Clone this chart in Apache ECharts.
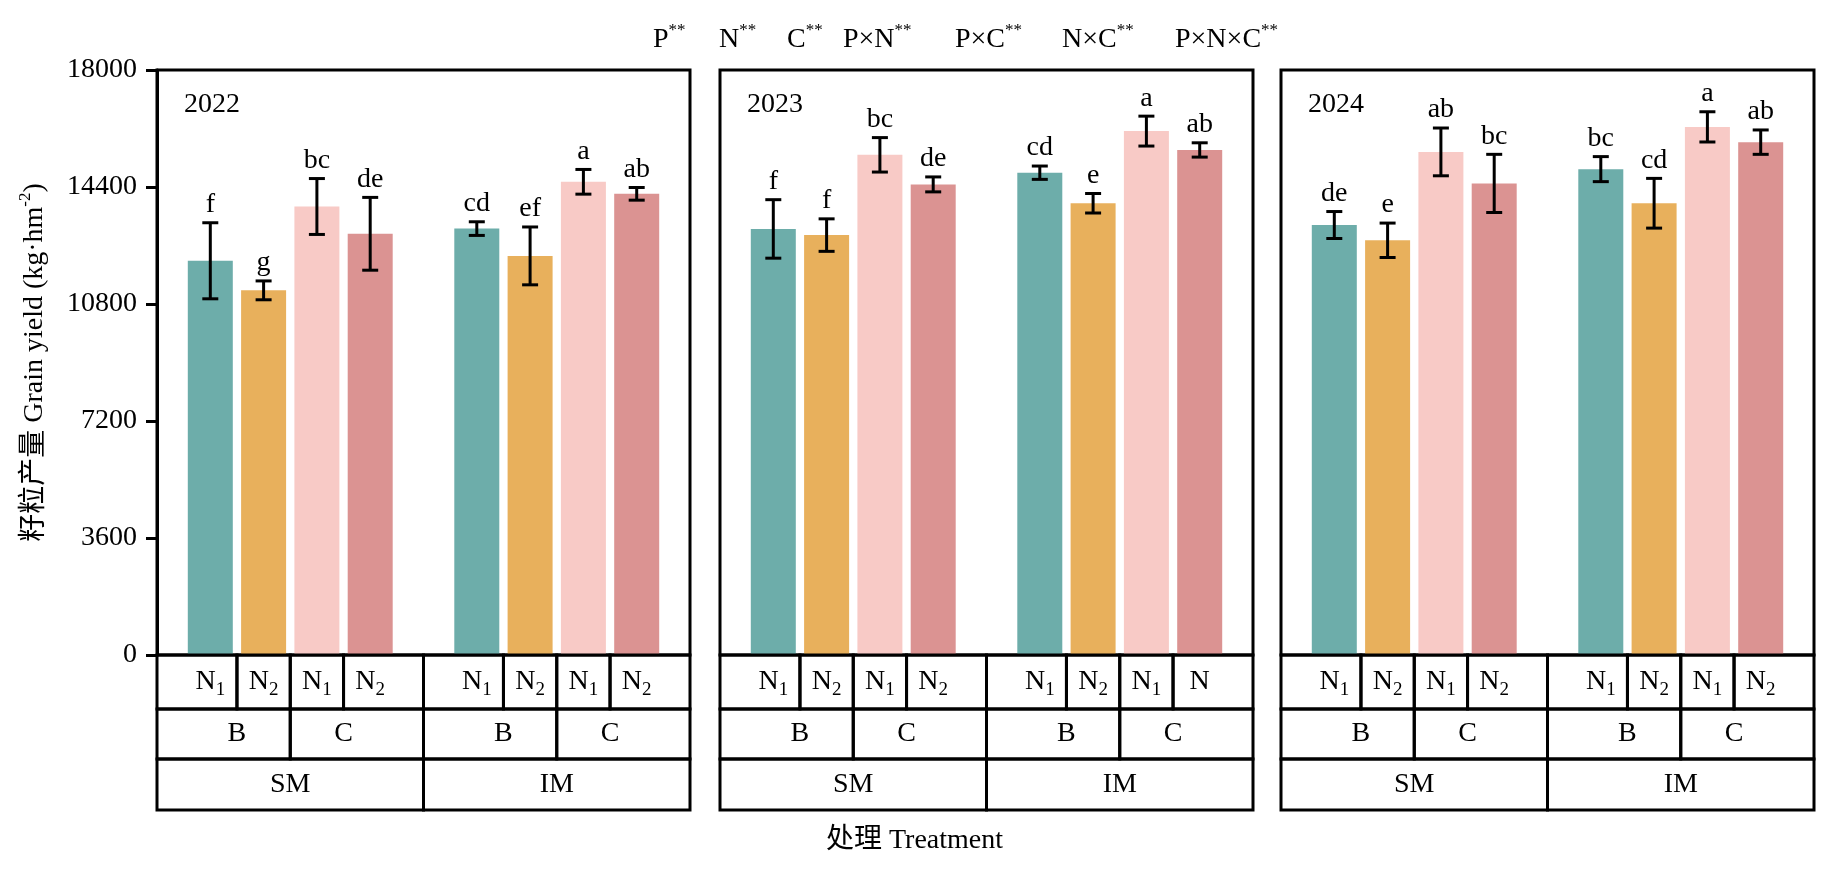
<!DOCTYPE html>
<html><head><meta charset="utf-8">
<script src="https://cdn.jsdelivr.net/npm/echarts@6/dist/echarts.min.js"></script>
<style>html,body{margin:0;padding:0;background:#fff}#c{width:1829px;height:877px}</style>
</head><body><div id="c"></div>
<script>
// ---------------- data ----------------
const years = ['2022', '2023', '2024'];
const treatments = ['SM-B-N1', 'SM-B-N2', 'SM-C-N1', 'SM-C-N2', 'IM-B-N1', 'IM-B-N2', 'IM-C-N1', 'IM-C-N2'];
const yield2022 = [12130, 11220, 13800, 12960, 13120, 12280, 14560, 14190];
const sd2022    = [1170, 290, 860, 1120, 210, 890, 380, 195];
const letters2022 = ['f', 'g', 'bc', 'de', 'cd', 'ef', 'a', 'ab'];
const yield2023 = [13110, 12920, 15390, 14480, 14840, 13900, 16120, 15540];
const sd2023    = [900, 500, 530, 230, 205, 300, 460, 220];
const letters2023 = ['f', 'f', 'bc', 'de', 'cd', 'e', 'a', 'ab'];
const yield2024 = [13230, 12760, 15480, 14510, 14950, 13900, 16250, 15780];
const sd2024    = [415, 530, 735, 895, 385, 765, 465, 375];
const letters2024 = ['de', 'e', 'ab', 'bc', 'bc', 'cd', 'a', 'ab'];
const nLabels2022 = ['N1', 'N2', 'N1', 'N2', 'N1', 'N2', 'N1', 'N2'];
const nLabels2023 = ['N1', 'N2', 'N1', 'N2', 'N1', 'N2', 'N1', 'N'];
const nLabels2024 = ['N1', 'N2', 'N1', 'N2', 'N1', 'N2', 'N1', 'N2'];
const cropLabels = ['B', 'C', 'B', 'C'];
const patternLabels = ['SM', 'IM'];
const effects = ['P', 'N', 'C', 'P×N', 'P×C', 'N×C', 'P×N×C'];
const effectSig = ['**', '**', '**', '**', '**', '**', '**'];
const yTicks = [0, 3600, 7200, 10800, 14400, 18000];

// ---------------- layout / style ----------------
const FONT = '"Liberation Serif", "Times New Roman", "Noto Sans CJK SC", serif';
const FS = 28;
const panelLeft = [157, 720, 1281];
const panelW = 533, panelTop = 70, panelH = 585;
const rowOffsets = [0, 54, 104, 155];
const barColors = ['#6dadaa', '#e8b05c', '#f8cac6', '#db9392'];
const headerX = [653, 719, 787, 843, 955, 1062, 1175];

const means = [yield2022, yield2023, yield2024];
const sds = [sd2022, sd2023, sd2024];
const letters = [letters2022, letters2023, letters2024];
const nLabels = [nLabels2022, nLabels2023, nLabels2024];

const catIndex = i => (i < 4 ? i + 1 : i + 2);
const axisCats = [''].concat(treatments.slice(0, 4), [' '], treatments.slice(4), ['  ']);

const RICH = {
  n: { fontSize: FS, fontFamily: FONT, lineHeight: 36, fill: '#000', color: '#000' },
  s: { fontSize: 19, fontFamily: FONT, lineHeight: 22, verticalAlign: 'bottom', fill: '#000', color: '#000' },
  sup: { fontSize: 17, fontFamily: FONT, lineHeight: 20, verticalAlign: 'top', fill: '#000', color: '#000' },
  sp: { fontSize: 17, fontFamily: FONT, lineHeight: 17, verticalAlign: 'top', fill: '#000', color: '#000' },
  t: { fontSize: FS, fontFamily: FONT, lineHeight: 36, fill: '#000', color: '#000' }
};
const richN = s => (s.length > 1 ? '{n|' + s[0] + '}{s|' + s.slice(1) + '}' : '{n|' + s + '}');

// table cells (fractional category indices)
function buildCells(p) {
  const cells = [];
  const groupStart = [0, 5], groupEnd = [5, 10];
  for (let i = 0; i < 8; i++) {
    const g = Math.floor(i / 4), k = i % 4;
    const a = k === 0 ? groupStart[g] : (catIndex(i - 1) + catIndex(i)) / 2;
    const b = k === 3 ? groupEnd[g] : (catIndex(i) + catIndex(i + 1)) / 2;
    cells.push({ row: 0, a: a, b: b, c: catIndex(i), text: richN(nLabels[p][i]) });
  }
  for (let j = 0; j < 4; j++) {
    const g = Math.floor(j / 2), c = j % 2;
    const i0 = g * 4 + c * 2;
    const mid = (catIndex(g * 4 + 1) + catIndex(g * 4 + 2)) / 2;
    cells.push({ row: 1, a: c === 0 ? groupStart[g] : mid, b: c === 0 ? mid : groupEnd[g],
      c: (catIndex(i0) + catIndex(i0 + 1)) / 2, text: '{n|' + cropLabels[j] + '}' });
  }
  for (let g = 0; g < 2; g++) {
    cells.push({ row: 2, a: groupStart[g], b: groupEnd[g],
      c: (catIndex(g * 4) + catIndex(g * 4 + 3)) / 2, text: '{n|' + patternLabels[g] + '}' });
  }
  return cells;
}

const grids = [], xAxes = [], yAxes = [], series = [];
years.forEach((yr, p) => {
  grids.push({ left: panelLeft[p], top: panelTop, width: panelW, height: panelH,
    show: true, borderColor: '#000', borderWidth: 3, backgroundColor: 'transparent' });
  xAxes.push({ gridIndex: p, type: 'category', data: axisCats, boundaryGap: false, show: false });
  const y = { gridIndex: p, type: 'value', min: yTicks[0], max: yTicks[yTicks.length - 1],
    interval: yTicks[1] - yTicks[0], splitLine: { show: false },
    axisLine: { show: p === 0, lineStyle: { color: '#000', width: 3 } },
    axisTick: { show: p === 0, length: 11, lineStyle: { color: '#000', width: 3 } },
    axisLabel: { show: p === 0, margin: 20, fontSize: FS, fontFamily: FONT, color: '#000',
      formatter: v => String(v) } };
  if (p === 0) {
    y.name = '{t|籽粒产量 Grain yield (kg·hm}{sp|-2}{t|)}';
    y.nameLocation = 'middle';
    y.nameRotate = 90;
    y.nameGap = 104;
    y.nameTextStyle = { fontSize: FS, fontFamily: FONT, color: '#000', rich: RICH };
  }
  yAxes.push(y);

  const barData = axisCats.map(() => null);
  means[p].forEach((v, i) => {
    barData[catIndex(i)] = { value: v, itemStyle: { color: barColors[i % 4] } };
  });
  series.push({ type: 'bar', xAxisIndex: p, yAxisIndex: p, data: barData, barWidth: 45, silent: true, z: 2 });

  const errData = means[p].map((v, i) => [catIndex(i), v, sds[p][i]]);
  series.push({ type: 'custom', xAxisIndex: p, yAxisIndex: p, clip: false, silent: true, z: 5,
    data: errData,
    renderItem: (params, api) => {
      const x = api.value(0), m = api.value(1), s = api.value(2);
      const top = api.coord([x, m + s]), bot = api.coord([x, m - s]);
      const cx = top[0], hw = 8;
      const st = { stroke: '#000', lineWidth: 3 };
      return { type: 'group', children: [
        { type: 'line', shape: { x1: cx, y1: top[1], x2: cx, y2: bot[1] }, style: st },
        { type: 'line', shape: { x1: cx - hw, y1: top[1], x2: cx + hw, y2: top[1] }, style: st },
        { type: 'line', shape: { x1: cx - hw, y1: bot[1], x2: cx + hw, y2: bot[1] }, style: st },
        { type: 'text', style: { text: letters[p][params.dataIndex], x: cx, y: top[1] - 4,
          align: 'center', verticalAlign: 'bottom', fontSize: FS, fontFamily: FONT, fill: '#000' } }
      ] };
    } });

  const cells = buildCells(p);
  series.push({ type: 'custom', xAxisIndex: p, yAxisIndex: p, clip: false, silent: true, z: 6,
    data: cells.map(() => [0, 0]),
    renderItem: (params, api) => {
      const cell = cells[params.dataIndex];
      const c0 = api.coord([0, 0]), c1 = api.coord([1, 0]);
      const step = c1[0] - c0[0];
      const px = f => c0[0] + f * step;
      const base = c0[1];
      const y0 = base + rowOffsets[cell.row], y1 = base + rowOffsets[cell.row + 1];
      return { type: 'group', children: [
        { type: 'rect', shape: { x: px(cell.a), y: y0, width: px(cell.b) - px(cell.a), height: y1 - y0 },
          style: { fill: 'none', stroke: '#000', lineWidth: 3 } },
        { type: 'text', style: { text: cell.text, rich: RICH, x: px(cell.c), y: (y0 + y1) / 2,
          align: 'center', verticalAlign: 'middle', fontSize: FS, fontFamily: FONT, fill: '#000' } }
      ] };
    } });
});

const graphics = [];
effects.forEach((e, i) => {
  graphics.push({ type: 'text', left: headerX[i], top: 22, silent: true,
    style: { text: '{n|' + e + '}{sup|' + effectSig[i] + '}', rich: RICH, fontSize: FS, fontFamily: FONT, fill: '#000' } });
});
years.forEach((yr, p) => {
  graphics.push({ type: 'text', left: panelLeft[p] + 27, top: 91, silent: true,
    style: { text: yr, fontSize: FS, fontFamily: FONT, fill: '#000' } });
});
graphics.push({ type: 'text', left: 'center', top: 827, silent: true,
  style: { text: '处理 Treatment', fontSize: FS, fontFamily: FONT, fill: '#000' } });

const chart = echarts.init(document.getElementById('c'));
chart.setOption({
  animation: false,
  backgroundColor: '#fff',
  grid: grids, xAxis: xAxes, yAxis: yAxes, series: series, graphic: graphics
});
</script></body></html>
